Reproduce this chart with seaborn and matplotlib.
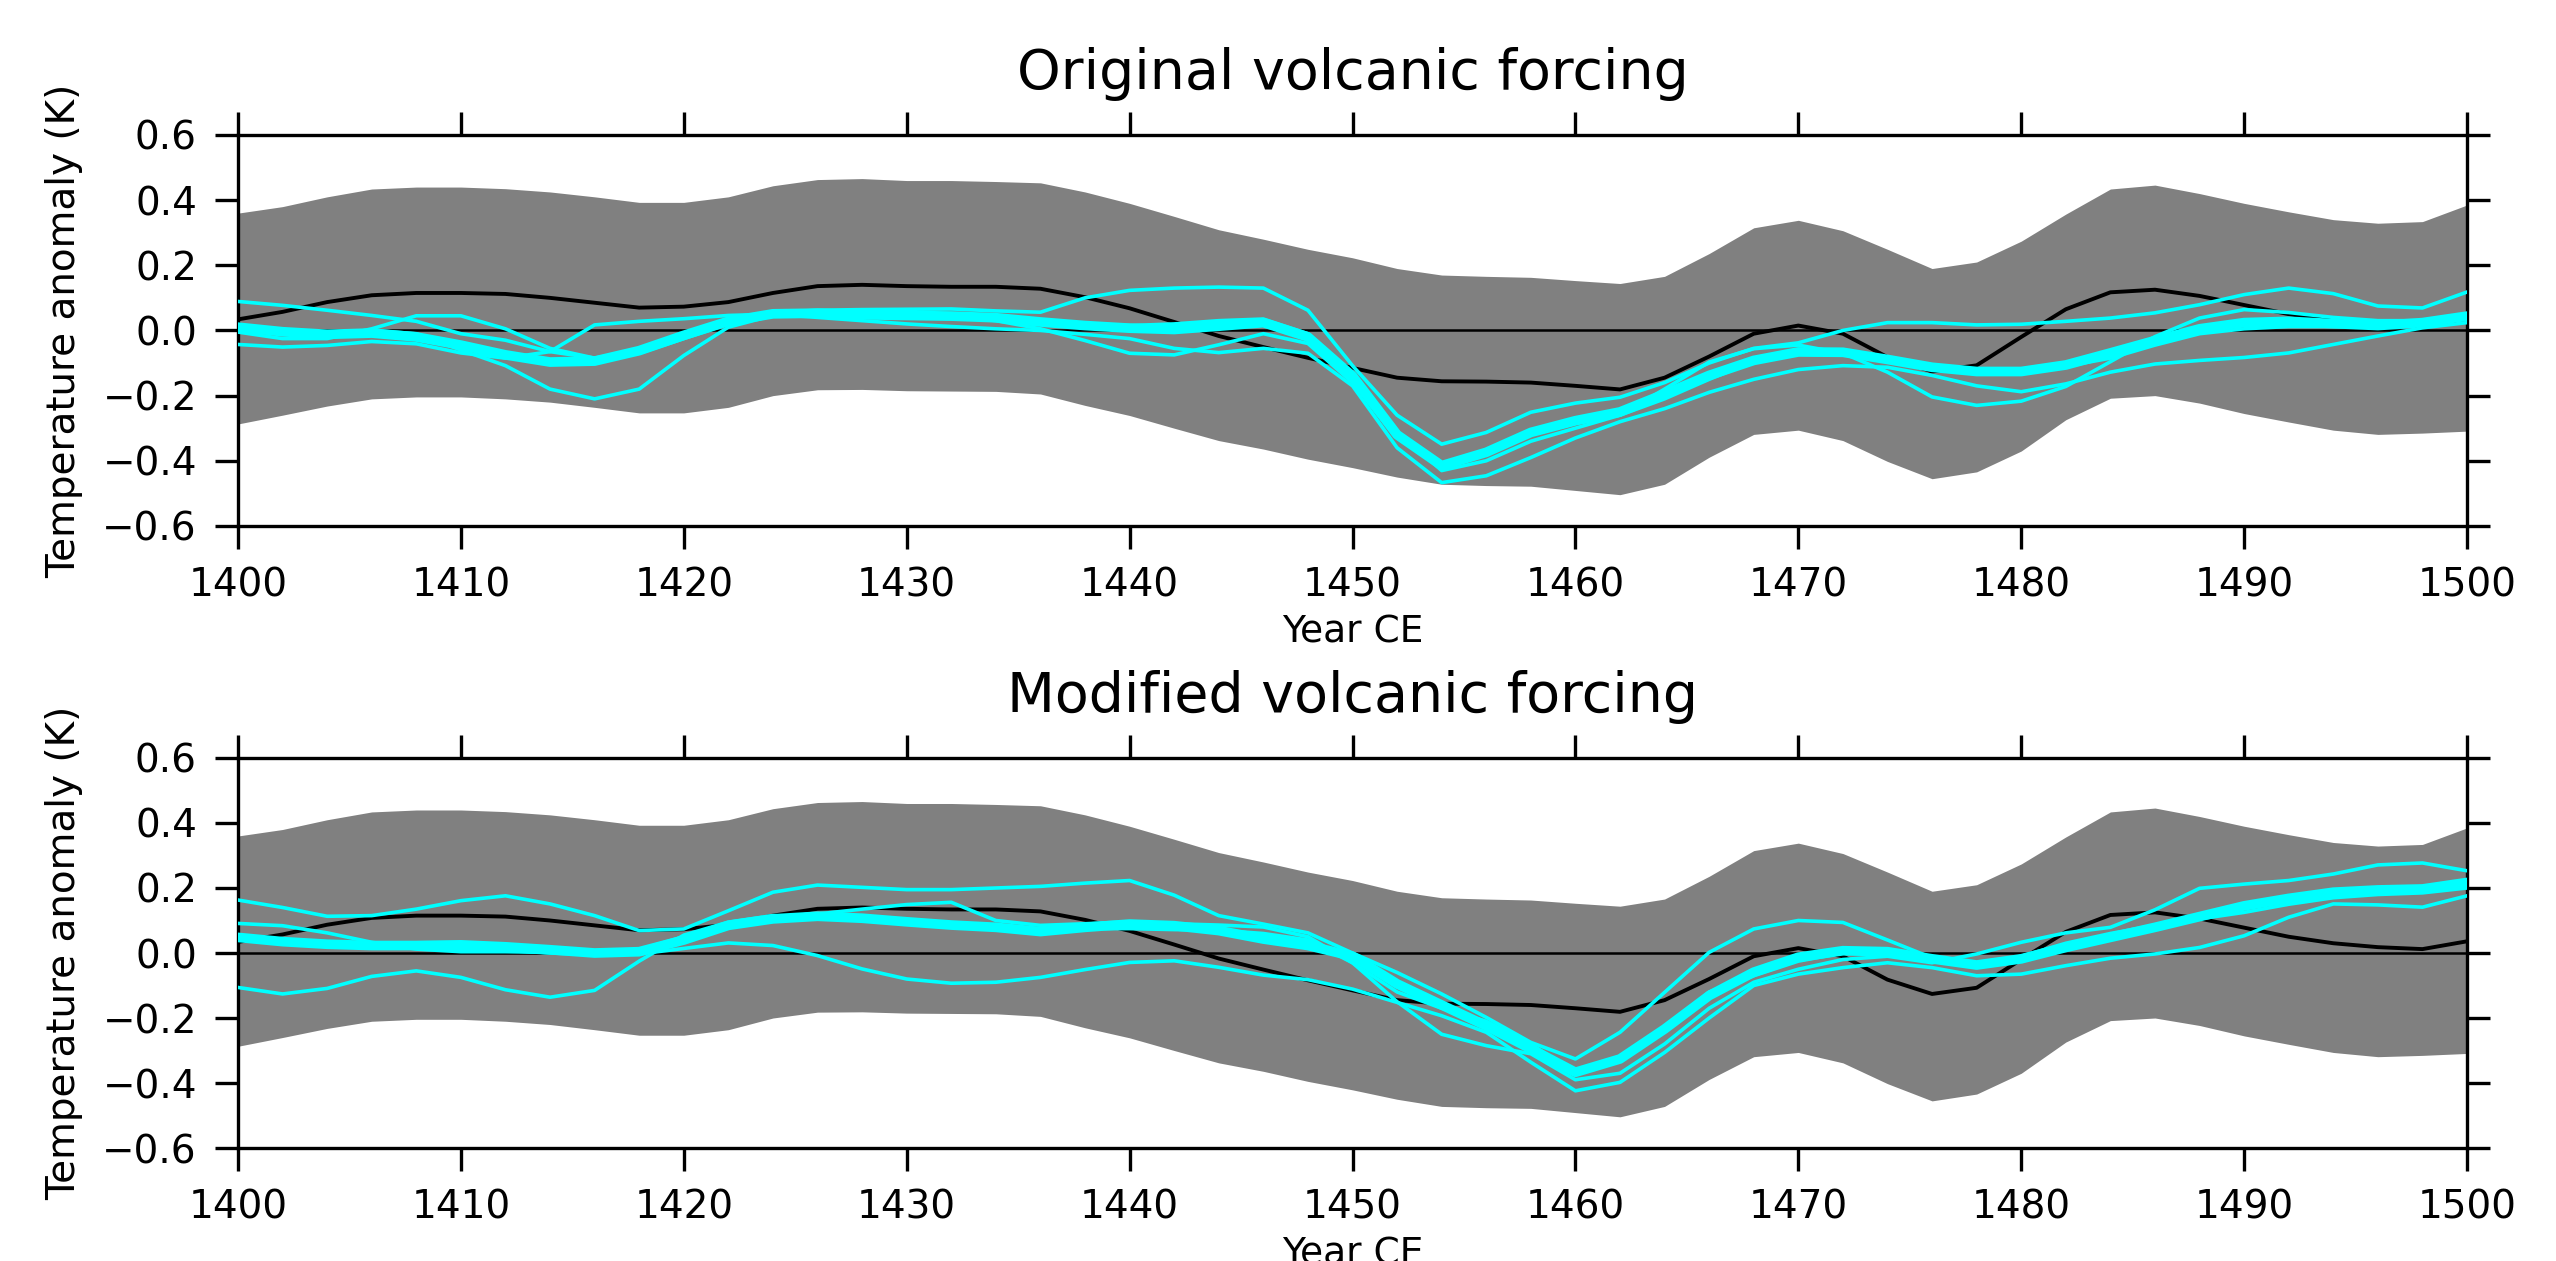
import matplotlib
matplotlib.use("Agg")
import matplotlib.pyplot as plt
import numpy as np
import pandas as pd
import seaborn as sns

# ---------------- data ----------------
years = list(range(1400, 1501, 2))

band_upper = [0.36, 0.38, 0.41, 0.434, 0.44, 0.44, 0.435, 0.425, 0.41, 0.393,
              0.393, 0.41, 0.444, 0.463, 0.466, 0.46, 0.46, 0.457, 0.453, 0.425,
              0.39, 0.35, 0.309, 0.28, 0.249, 0.223, 0.19, 0.17, 0.166, 0.163,
              0.153, 0.144, 0.166, 0.236, 0.315, 0.338, 0.306, 0.249, 0.19, 0.21,
              0.274, 0.357, 0.434, 0.446, 0.42, 0.39, 0.364, 0.34, 0.329, 0.334,
              0.385]
band_lower = [-0.287, -0.26, -0.232, -0.21, -0.204, -0.204, -0.21, -0.22, -0.236, -0.253,
              -0.253, -0.236, -0.2, -0.182, -0.181, -0.185, -0.186, -0.187, -0.195, -0.23,
              -0.261, -0.3, -0.338, -0.364, -0.395, -0.421, -0.45, -0.472, -0.476, -0.478,
              -0.491, -0.504, -0.472, -0.389, -0.319, -0.306, -0.338, -0.402, -0.455, -0.434,
              -0.37, -0.274, -0.208, -0.2, -0.223, -0.255, -0.281, -0.306, -0.319, -0.315,
              -0.309]
reconstruction = [0.034, 0.057, 0.087, 0.108, 0.115, 0.115, 0.112, 0.1, 0.085, 0.07,
                  0.073, 0.087, 0.115, 0.136, 0.14, 0.136, 0.134, 0.134, 0.128, 0.102,
                  0.068, 0.026, -0.017, -0.051, -0.084, -0.115, -0.145, -0.156, -0.157, -0.16,
                  -0.17, -0.181, -0.145, -0.08, -0.01, 0.015, -0.01, -0.082, -0.126, -0.107,
                  -0.02, 0.065, 0.117, 0.125, 0.106, 0.078, 0.05, 0.03, 0.018, 0.012,
                  0.036]

orig_mean = [0.01, -0.004, -0.012, -0.008, -0.02, -0.045, -0.075, -0.097, -0.094, -0.062,
             -0.015, 0.028, 0.051, 0.053, 0.048, 0.046, 0.044, 0.039, 0.026, 0.015,
             0.007, 0.003, 0.013, 0.024, -0.02, -0.14, -0.32, -0.415, -0.374, -0.313,
             -0.277, -0.25, -0.195, -0.138, -0.092, -0.066, -0.067, -0.089, -0.113, -0.126,
             -0.126, -0.106, -0.069, -0.031, 0.005, 0.024, 0.028, 0.021, 0.015, 0.024,
             0.044]
orig_run1 = [0.089, 0.077, 0.062, 0.046, 0.028, -0.01, -0.03, -0.065, -0.085, -0.06,
             -0.01, 0.03, 0.055, 0.062, 0.064, 0.065, 0.066, 0.06, 0.056, 0.1,
             0.123, 0.13, 0.133, 0.13, 0.062, -0.108, -0.26, -0.349, -0.313, -0.251,
             -0.223, -0.205, -0.16, -0.1, -0.055, -0.038, 0.0, 0.024, 0.024, 0.017,
             0.019, 0.028, 0.038, 0.054, 0.079, 0.11, 0.13, 0.113, 0.075, 0.069,
             0.118]
orig_run2 = [-0.005, -0.025, -0.025, 0.005, 0.045, 0.045, 0.005, -0.055, -0.085, -0.07,
             -0.025, 0.02, 0.045, 0.05, 0.05, 0.05, 0.045, 0.03, 0.005, -0.031,
             -0.07, -0.075, -0.044, -0.01, -0.04, -0.16, -0.33, -0.42, -0.38, -0.32,
             -0.285, -0.26, -0.21, -0.15, -0.095, -0.06, -0.065, -0.085, -0.11, -0.12,
             -0.12, -0.11, -0.085, -0.045, -0.01, 0.005, 0.012, 0.012, 0.012, 0.02,
             0.035]
orig_run3 = [-0.043, -0.051, -0.046, -0.034, -0.041, -0.069, -0.085, -0.065, 0.017, 0.028,
             0.036, 0.046, 0.05, 0.04, 0.03, 0.02, 0.012, 0.005, 0.0, -0.012,
             -0.025, -0.055, -0.068, -0.055, -0.07, -0.17, -0.36, -0.467, -0.446, -0.39,
             -0.33, -0.28, -0.24, -0.19, -0.15, -0.12, -0.108, -0.113, -0.138, -0.17,
             -0.188, -0.164, -0.128, -0.103, -0.092, -0.083, -0.069, -0.043, -0.017, 0.008,
             0.024]
orig_run4 = [0.01, 0.0, -0.005, 0.0, -0.01, -0.06, -0.108, -0.18, -0.21, -0.18,
             -0.077, 0.01, 0.046, 0.055, 0.05, 0.045, 0.04, 0.035, 0.03, 0.02,
             0.015, 0.02, 0.03, 0.035, -0.01, -0.14, -0.31, -0.43, -0.40, -0.34,
             -0.30, -0.26, -0.18, -0.097, -0.056, -0.045, -0.07, -0.128, -0.204, -0.23,
             -0.217, -0.172, -0.096, -0.019, 0.038, 0.064, 0.055, 0.04, 0.03, 0.03,
             0.04]

mod_mean = [0.048, 0.035, 0.027, 0.023, 0.023, 0.025, 0.019, 0.01, 0.0, 0.004,
            0.04, 0.085, 0.105, 0.113, 0.107, 0.096, 0.086, 0.079, 0.066, 0.079,
            0.089, 0.084, 0.069, 0.043, 0.023, -0.01, -0.095, -0.16, -0.224, -0.295,
            -0.367, -0.326, -0.234, -0.131, -0.059, -0.013, 0.007, 0.004, -0.018, -0.037,
            -0.018, 0.017, 0.048, 0.079, 0.112, 0.145, 0.168, 0.187, 0.194, 0.197,
            0.217]
mod_run1 = [0.163, 0.14, 0.113, 0.115, 0.135, 0.161, 0.176, 0.151, 0.115, 0.069,
            0.074, 0.13, 0.187, 0.209, 0.202, 0.195, 0.195, 0.2, 0.205, 0.215,
            0.223, 0.178, 0.115, 0.089, 0.062, 0.0, -0.06, -0.126, -0.198, -0.275,
            -0.326, -0.244, -0.121, 0.002, 0.074, 0.1, 0.094, 0.04, -0.015, -0.035,
            -0.02, 0.01, 0.045, 0.08, 0.11, 0.14, 0.165, 0.185, 0.195, 0.2,
            0.22]
mod_run2 = [0.091, 0.084, 0.062, 0.033, 0.012, 0.004, 0.004, 0.002, -0.003, -0.003,
            0.014, 0.031, 0.023, -0.008, -0.049, -0.08, -0.093, -0.09, -0.075, -0.051,
            -0.029, -0.024, -0.044, -0.068, -0.082, -0.111, -0.152, -0.193, -0.244, -0.336,
            -0.424, -0.398, -0.306, -0.2, -0.1, -0.065, -0.045, -0.03, -0.045, -0.07,
            -0.065, -0.039, -0.016, -0.003, 0.017, 0.053, 0.11, 0.151, 0.148, 0.141,
            0.176]
mod_run3 = [-0.106, -0.126, -0.109, -0.072, -0.055, -0.075, -0.113, -0.136, -0.115, -0.025,
            0.055, 0.095, 0.115, 0.11, 0.1, 0.09, 0.085, 0.08, 0.07, 0.075,
            0.075, 0.072, 0.07, 0.06, 0.04, -0.03, -0.15, -0.25, -0.285, -0.31,
            -0.39, -0.37, -0.28, -0.17, -0.09, -0.05, -0.02, -0.01, -0.03, -0.003,
            0.033, 0.062, 0.079, 0.133, 0.199, 0.212, 0.223, 0.243, 0.271, 0.277,
            0.253]
mod_run4 = [0.045, 0.035, 0.028, 0.022, 0.015, 0.012, 0.008, 0.0, -0.005, 0.01,
            0.05, 0.09, 0.11, 0.12, 0.135, 0.149, 0.156, 0.1, 0.085, 0.09,
            0.096, 0.09, 0.086, 0.08, 0.05, -0.03, -0.12, -0.17, -0.21, -0.28,
            -0.37, -0.33, -0.24, -0.12, -0.07, -0.025, 0.0, 0.005, -0.02, -0.035,
            -0.01, 0.03, 0.06, 0.085, 0.105, 0.125, 0.15, 0.17, 0.18, 0.185,
            0.2]

panel_titles = ["Original volcanic forcing", "Modified volcanic forcing"]
x_ticks = [1400, 1410, 1420, 1430, 1440, 1450, 1460, 1470, 1480, 1490, 1500]
y_ticks = [-0.6, -0.4, -0.2, 0.0, 0.2, 0.4, 0.6]

# ---------------- style ----------------
sns.set_style("ticks")
plt.rcParams['font.family'] = ['DejaVu Sans']
plt.rcParams['axes.unicode_minus'] = True
plt.rcParams['text.color'] = 'black'
plt.rcParams['axes.labelcolor'] = 'black'
plt.rcParams['xtick.color'] = 'black'
plt.rcParams['ytick.color'] = 'black'
plt.rcParams['axes.edgecolor'] = 'black'

CYAN = "#00FFFF"
GREY = "#808080"

fig = plt.figure(figsize=(25.56, 12.61), dpi=100)
ax_top = fig.add_axes([0.0931, 0.5829, 0.8721, 0.3101])
ax_bot = fig.add_axes([0.0931, 0.0896, 0.8721, 0.3093])


def draw_panel(ax, runs, mean, title):
    ax.fill_between(years, band_lower, band_upper, color=GREY, linewidth=0, zorder=1)
    ax.axhline(0.0, color="black", linewidth=1.8, zorder=2)
    sns.lineplot(x=years, y=reconstruction, ax=ax, color="black", linewidth=2.8, zorder=3)
    df = pd.DataFrame({
        "year": years * len(runs),
        "value": [v for r in runs for v in r],
        "member": [i for i, r in enumerate(runs) for _ in r],
    })
    sns.lineplot(data=df, x="year", y="value", units="member", estimator=None,
                 color=CYAN, linewidth=2.6, ax=ax, zorder=4, legend=False)
    sns.lineplot(x=years, y=mean, ax=ax, color=CYAN, linewidth=7.0, zorder=5)

    ax.set_xlim(1400, 1500)
    ax.set_ylim(-0.6, 0.6)
    ax.set_xticks(x_ticks)
    ax.set_yticks(y_ticks)
    ax.tick_params(axis="both", which="major", direction="out", length=16.5, width=2.4,
                   top=True, right=True, labeltop=False, labelright=False,
                   labelsize=28, pad=13, color="black", labelcolor="black")
    for sp in ax.spines.values():
        sp.set_linewidth(2.4)
        sp.set_color("black")
        sp.set_visible(True)
    ax.set_xlabel("Year CE", fontsize=27, labelpad=7, color="black")
    ax.set_ylabel("Temperature anomaly (K)", fontsize=28, color="black")
    ax.yaxis.set_label_coords(-0.0695, 0.5)
    ax.set_title(title, fontsize=40, pad=0, y=1.1176, color="black")
    ax.grid(False)


draw_panel(ax_top, [orig_run1, orig_run2, orig_run3, orig_run4], orig_mean, panel_titles[0])
draw_panel(ax_bot, [mod_run1, mod_run2, mod_run3, mod_run4], mod_mean, panel_titles[1])

fig.savefig("out.png", dpi=100, facecolor="white")
